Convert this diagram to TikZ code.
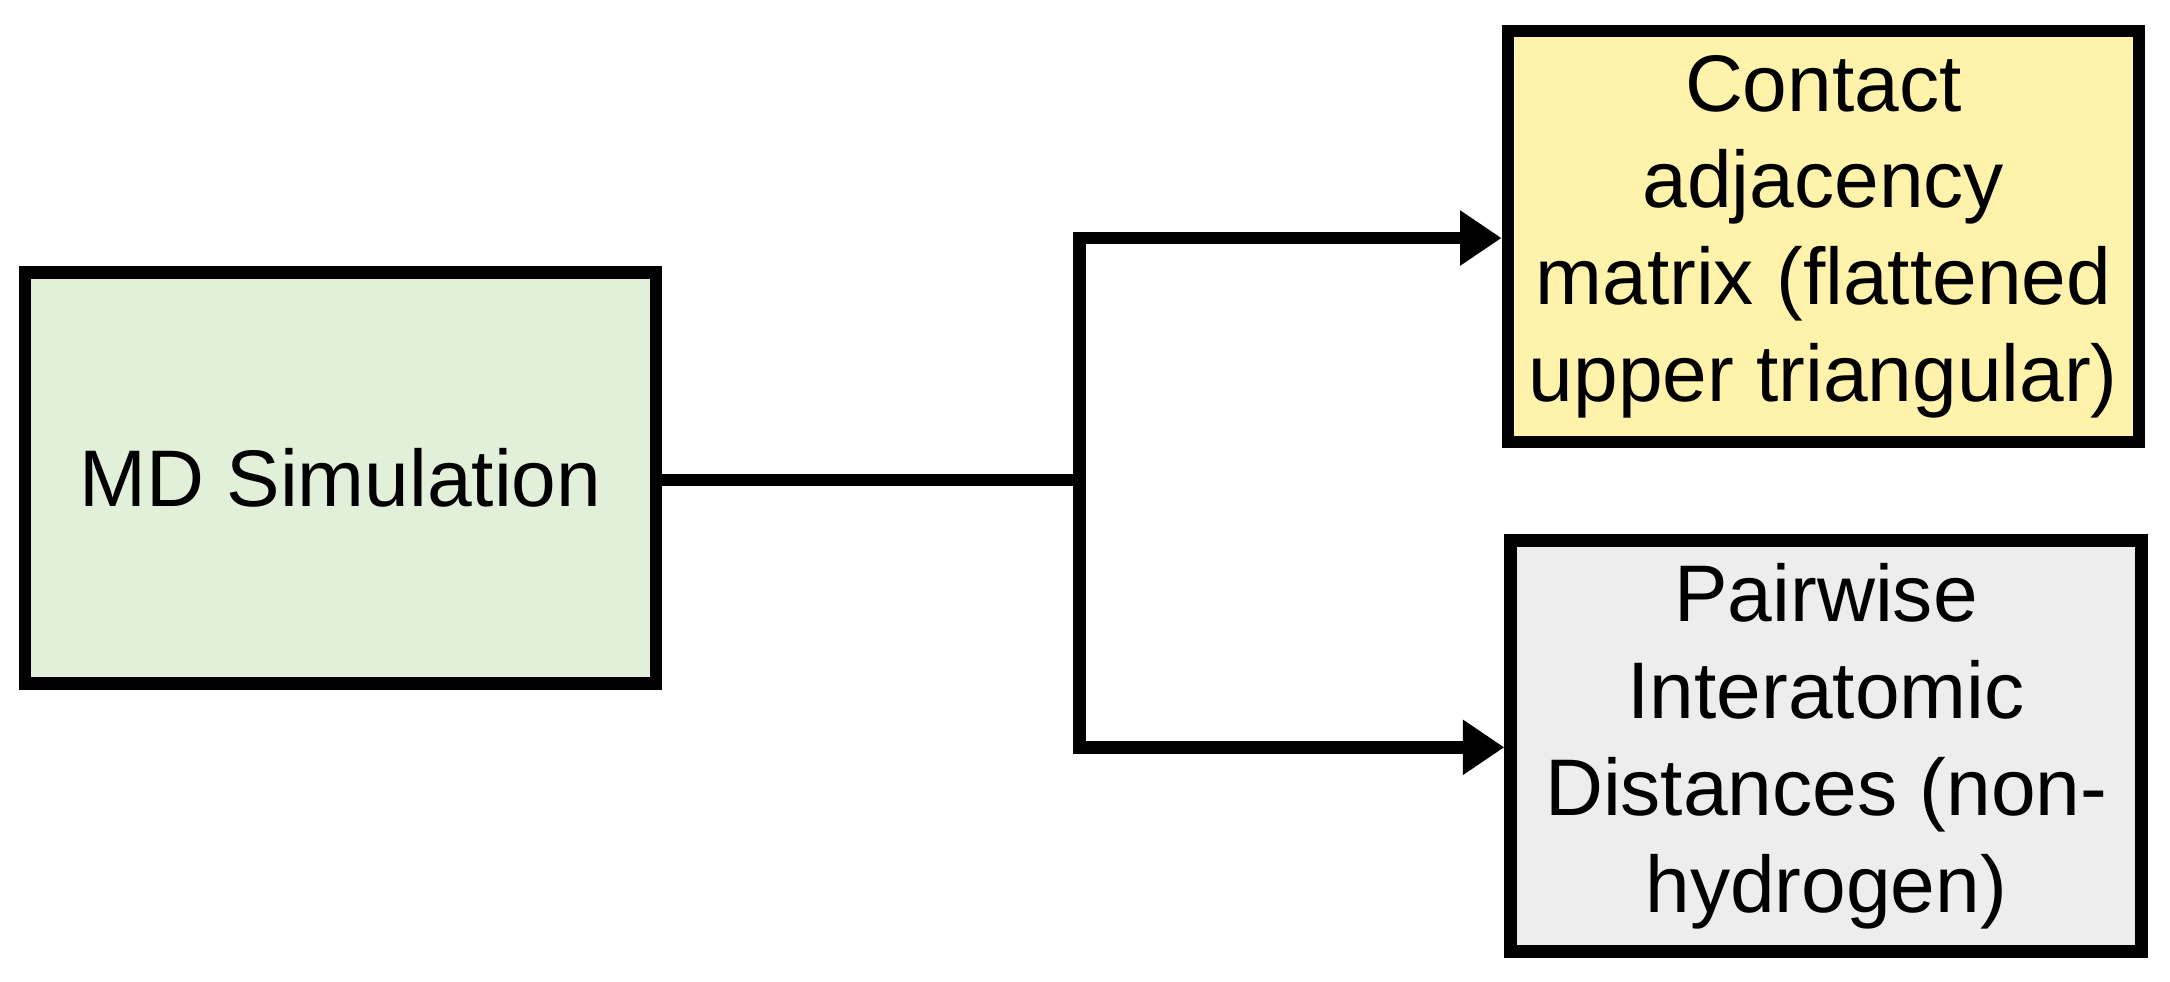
\documentclass[tikz,border=0pt]{standalone}
\usepackage{fontspec}
\setmainfont{Liberation Sans}
\usetikzlibrary{arrows.meta}
\definecolor{gfill}{HTML}{E2EFD9}
\definecolor{yfill}{HTML}{FFF2AB}
\definecolor{kfill}{HTML}{EDEDED}
\begin{document}
\begin{tikzpicture}[x=1pt,y=-1pt,
  box/.style={draw=black,line width=9pt,minimum width=456pt,minimum height=297pt,inner sep=0pt,align=center,font=\fontsize{58}{70}\selectfont},
  conn/.style={line width=9pt,-{Triangle[length=30pt,width=38pt]}}]
\useasboundingbox (0,0) rectangle (1568,709);
\node[box,fill=gfill] (md) at (246,345.5) {MD Simulation};
\node[box,fill=yfill] (ca) at (1317.5,171) {Contact\\adjacency\\matrix (flattened\\upper triangular)};
\node[box,fill=kfill] (pd) at (1319.5,539) {Pairwise\\Interatomic\\Distances (non-\\hydrogen)};
\coordinate (j) at (780,347);
\draw[line width=9pt] (md.east|-j) -- (j);
\draw[conn] (j) |- (ca.west|-0,172);
\draw[conn] (j) |- (pd.west|-0,540);
\end{tikzpicture}
\end{document}
